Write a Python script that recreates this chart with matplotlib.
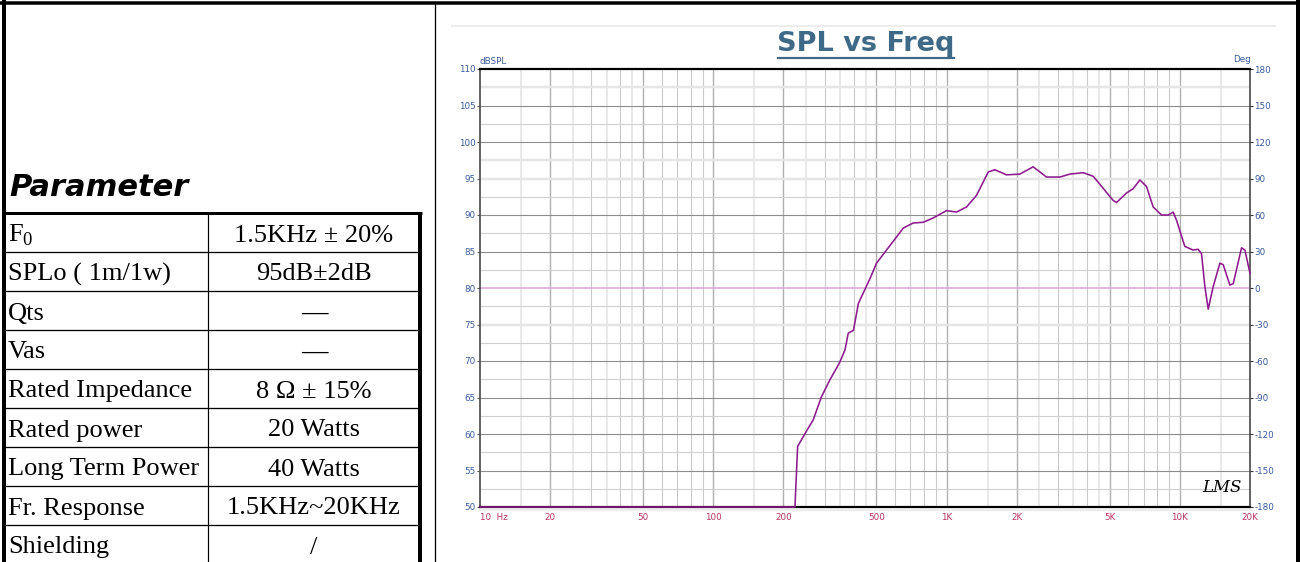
import matplotlib
matplotlib.use("Agg")
import matplotlib.pyplot as plt
import numpy as np

# ---------------- data ----------------
param_names = [r"F$_0$", "SPLo ( 1m/1w)", "Qts", "Vas", "Rated Impedance",
               "Rated power", "Long Term Power", "Fr. Response", "Shielding"]
param_values = ["1.5KHz ± 20%", "95dB±2dB", "—", "—", "8 Ω ± 15%",
                "20 Watts", "40 Watts", "1.5KHz~20KHz", "/"]

freq_hz = [10, 224, 230, 252, 268, 291, 316, 347, 367, 379, 399, 419, 470,
           501, 553, 611, 652, 719, 794, 877, 1000, 1104, 1219, 1345, 1510,
           1612, 1808, 2063, 2352, 2683, 3062, 3380, 3856, 4257, 5180, 5354,
           5904, 6310, 6745, 7200, 7690, 8350, 8920, 9370, 9680, 10510, 11400,
           11990, 12390, 12810, 13240, 13910, 14860, 15350, 16400, 16950,
           18400, 19020, 20000]
spl_db = [50.0, 50.0, 58.3, 60.5, 61.9, 65.1, 67.4, 69.7, 71.5, 73.8, 74.2,
          77.9, 81.3, 83.4, 85.2, 87.0, 88.2, 88.9, 89.0, 89.6, 90.6, 90.4,
          91.1, 92.7, 95.9, 96.2, 95.5, 95.6, 96.6, 95.2, 95.2, 95.6, 95.8,
          95.3, 92.0, 91.7, 93.0, 93.6, 94.8, 93.9, 91.1, 90.0, 90.0, 90.4,
          89.3, 85.7, 85.2, 85.3, 84.7, 80.2, 77.1, 80.2, 83.4, 83.2, 80.4,
          80.6, 85.5, 85.2, 82.0]

x_ticks = [10, 20, 50, 100, 200, 500, 1000, 2000, 5000, 10000, 20000]
x_tick_labels = ["10  Hz", "20", "50", "100", "200", "500", "1K", "2K", "5K",
                 "10K", "20K"]
y_ticks = [50, 55, 60, 65, 70, 75, 80, 85, 90, 95, 100, 105, 110]
deg_ticks = [-180, -150, -120, -90, -60, -30, 0, 30, 60, 90, 120, 150, 180]

# ---------------- figure ----------------
W, H = 1300, 562
fig = plt.figure(figsize=(W / 100, H / 100), dpi=100)
fig.patch.set_facecolor("white")
plt.rcParams["mathtext.fontset"] = "custom"
plt.rcParams["mathtext.rm"] = "Liberation Serif"

PX = 0.72  # points per pixel
TICK_FS = 6.3

# overlay in pixel coordinates for layout items
ov = fig.add_axes([0, 0, 1, 1])
ov.set_xlim(0, W)
ov.set_ylim(H, 0)
ov.axis("off")

# outer frame
ov.plot([0, W], [3.3, 3.3], color="black", lw=3.5 * PX, solid_capstyle="butt")
ov.plot([3.7, 3.7], [0, H], color="black", lw=4 * PX, solid_capstyle="butt")
ov.plot([1298, 1298], [0, H], color="black", lw=4 * PX, solid_capstyle="butt")
ov.plot([434.5, 434.5], [3, H], color="black", lw=1.3 * PX)

# Parameter heading
ov.text(9, 187, "Parameter", fontsize=22, fontweight="heavy", fontstyle="italic",
        family="DejaVu Sans", ha="left", va="center", color="black")

# table
row_top = 213
row_h = 39
col_x = 208
tab_right = 419.7
ov.plot([3, tab_right + 2], [row_top, row_top], color="black", lw=3 * PX,
        solid_capstyle="butt")
ov.plot([tab_right, tab_right], [row_top - 1.5, H], color="black", lw=4 * PX,
        solid_capstyle="butt")
ov.plot([col_x, col_x], [row_top, H], color="black", lw=1.2 * PX)
for i, (name, val) in enumerate(zip(param_names, param_values)):
    top = row_top + i * row_h
    if i > 0:
        ov.plot([3, tab_right], [top, top], color="black", lw=1.3 * PX)
    base = top + 28.5
    ov.text(8, base, name, fontsize=19, family="Liberation Serif",
            ha="left", va="baseline", color="black")
    ov.text(314, base, val, fontsize=19, family="Liberation Serif",
            ha="center", va="baseline", color="black",
            fontweight="bold" if val == "—" else "normal")

# chart decorations
ov.plot([452, 1275], [25.5, 25.5], color="#ececec", lw=2 * PX)
ov.text(866, 44, "SPL vs Freq", fontsize=19.5, fontweight="bold",
        family="DejaVu Sans", color="#3f6a87", ha="center", va="center")
ov.plot([778, 954], [58, 58], color="#3f6a87", lw=2.2 * PX)
ov.plot([480, 1250], [510, 510], color="#ececec", lw=2.5 * PX)
ov.text(479, 61, "dBSPL", fontsize=TICK_FS, color="#3a5a9c", ha="left",
        va="center")
ov.text(1251, 60, "Deg", fontsize=TICK_FS, color="#3a5a9c", ha="right",
        va="center")

# ---------------- SPL chart ----------------
ax_l, ax_r, ax_t, ax_b = 480, 1250, 69, 507
ax = fig.add_axes([ax_l / W, 1 - ax_b / H, (ax_r - ax_l) / W, (ax_b - ax_t) / H])
ax.set_facecolor("white")
ax.set_xscale("log")
ax.set_xlim(10, 20000)
ax.set_ylim(50, 110)

# vertical grid
for dec in [10, 100, 1000, 10000]:
    for m in [1, 1.5, 2, 2.5, 3, 3.5, 4, 4.5, 5, 6, 7, 8, 9]:
        f = dec * m
        if f >= 20000 or f <= 10:
            continue
        if m in (1, 2, 5):
            ax.axvline(f, color="#b0b0b0", lw=1.4 * PX, zorder=1)
        elif m in (1.5, 2.5, 3.5, 4.5):
            ax.axvline(f, color="#e4e4e4", lw=1.6 * PX, zorder=0.9)
        else:
            ax.axvline(f, color="#cacaca", lw=1.1 * PX, zorder=1)
# horizontal grid
for v in np.arange(52.5, 110, 2.5):
    if v == 80:
        continue
    if v in (107.5, 97.5, 95, 75):
        ax.axhline(v, color="#e6e6e6", lw=2.5 * PX, zorder=1.1)
    elif v % 5 == 0:
        ax.axhline(v, color="#8c8c8c", lw=1.1 * PX, zorder=1.2)
    else:
        ax.axhline(v, color="#d0d0d0", lw=1.1 * PX, zorder=1.1)
ax.axhline(80, color="#d9a3d9", lw=1.5 * PX, zorder=1.5)

ax.plot(freq_hz, spl_db, color="#8e1b8e", lw=1.6 * PX, zorder=5, clip_on=False)

for side in ["top", "bottom"]:
    ax.spines[side].set_color("black")
    ax.spines[side].set_linewidth(2.2 * PX)
for side in ["left", "right"]:
    ax.spines[side].set_color("#555555")
    ax.spines[side].set_linewidth(1.8 * PX)

ax.set_xticks(x_ticks)
ax.set_xticklabels(x_tick_labels)
ax.xaxis.set_minor_locator(matplotlib.ticker.NullLocator())
ax.tick_params(axis="x", length=0, pad=4, labelsize=TICK_FS, labelcolor="#b8345f")
ax.get_xticklabels()[0].set_ha("left")
ax.get_xticklabels()[0].set_x(10)
ax.set_yticks(y_ticks)
ax.set_yticklabels([str(v) for v in y_ticks])
ax.tick_params(axis="y", length=2, width=0.8, color="#555555", pad=1,
               labelsize=TICK_FS, labelcolor="#3a5a9c")

ax2 = ax.twinx()
ax2.set_ylim(-180, 180)
ax2.set_yticks(deg_ticks)
ax2.set_yticklabels([str(v) for v in deg_ticks])
ax2.tick_params(axis="y", length=2, width=0.8, color="#333333", pad=1,
                labelsize=TICK_FS, labelcolor="#3a5a9c")
for s in ax2.spines.values():
    s.set_visible(False)

# LMS signature inside the plot area
ax2.text(1222, 488, "LMS", fontsize=12, fontstyle="italic", family="DejaVu Serif",
         color="black", ha="center", va="center", transform=ov.transData,
         zorder=10)

fig.savefig("out.png", dpi=100, facecolor="white")
